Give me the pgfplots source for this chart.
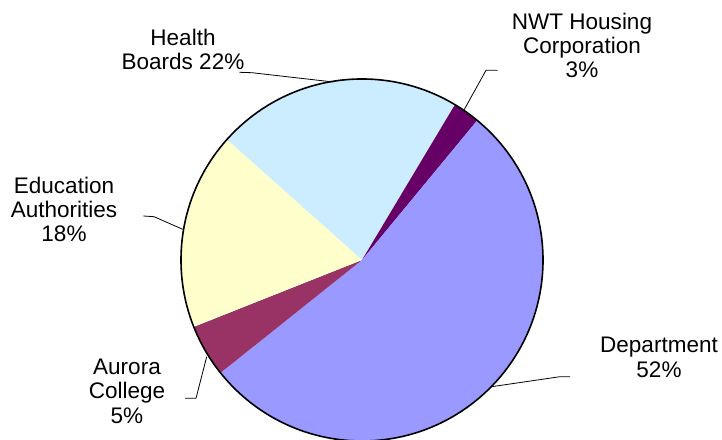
\documentclass[border=0pt]{standalone}
\usepackage{pgfplots}
\pgfplotsset{compat=1.18}
\usepackage{fontspec}
\setmainfont{Liberation Sans}
\definecolor{healthc}{HTML}{CCECFF}
\definecolor{nwtc}{HTML}{660066}
\definecolor{deptc}{HTML}{9999FF}
\definecolor{aurorac}{HTML}{993366}
\definecolor{educ}{HTML}{FFFFCC}
\tikzset{lbl/.style={font=\fontsize{22.6}{24.5}\selectfont, align=center, inner sep=0pt}}
\begin{document}
\begin{tikzpicture}
\begin{axis}[scale only axis, width=722bp, height=440bp,
  xmin=0, xmax=722, ymin=0, ymax=440, axis lines=none, clip=false]
% shares (percent), clockwise from 138.3 degrees
\fill[healthc] (axis cs:362,180) -- ++(138.3:181bp) arc[start angle=138.3, delta angle={-3.6*22.0}, radius=181bp] -- cycle;
\fill[nwtc]    (axis cs:362,180) -- ++(59.1:181bp)  arc[start angle=59.1,  delta angle={-3.6*2.4},  radius=181bp] -- cycle;
\fill[deptc]   (axis cs:362,180) -- ++(50.46:181bp) arc[start angle=50.46, delta angle={-3.6*53.3}, radius=181bp] -- cycle;
\fill[aurorac] (axis cs:362,180) -- ++(-141.42:181bp) arc[start angle=-141.42, delta angle={-3.6*4.7}, radius=181bp] -- cycle;
\fill[educ]    (axis cs:362,180) -- ++(-158.34:181bp) arc[start angle=-158.34, delta angle={-3.6*17.6}, radius=181bp] -- cycle;
\draw[black, line width=1.6bp] (axis cs:362,180) circle[radius=181bp];
% leader lines
\addplot[black, line width=0.8bp, mark=none] coordinates {(239.3,367.7) (251.7,367.3) (333.3,358)};
\addplot[black, line width=0.8bp, mark=none] coordinates {(464,330) (486,369.7) (497.7,369.7)};
\addplot[black, line width=0.8bp, mark=none] coordinates {(143.3,224) (154,223.3) (182.7,210.7)};
\addplot[black, line width=0.8bp, mark=none] coordinates {(185,41.7) (196,41.7) (206.7,83.3)};
\addplot[black, line width=0.8bp, mark=none] coordinates {(570,63.3) (560,63.3) (491.7,53.3)};
% labels
\node[lbl] at (axis cs:183,390.5) {Health\\Boards 22\%};
\node[lbl] at (axis cs:582,394.5) {NWT Housing\\Corporation\\3\%};
\node[lbl] at (axis cs:64,230.5) {Education\\Authorities\\18\%};
\node[lbl] at (axis cs:127,49) {Aurora\\College\\5\%};
\node[lbl] at (axis cs:659,82.5) {Department\\52\%};
\end{axis}
\pgfresetboundingbox
\path[use as bounding box] (current axis.south west) rectangle (current axis.north east);
\end{tikzpicture}
\end{document}
